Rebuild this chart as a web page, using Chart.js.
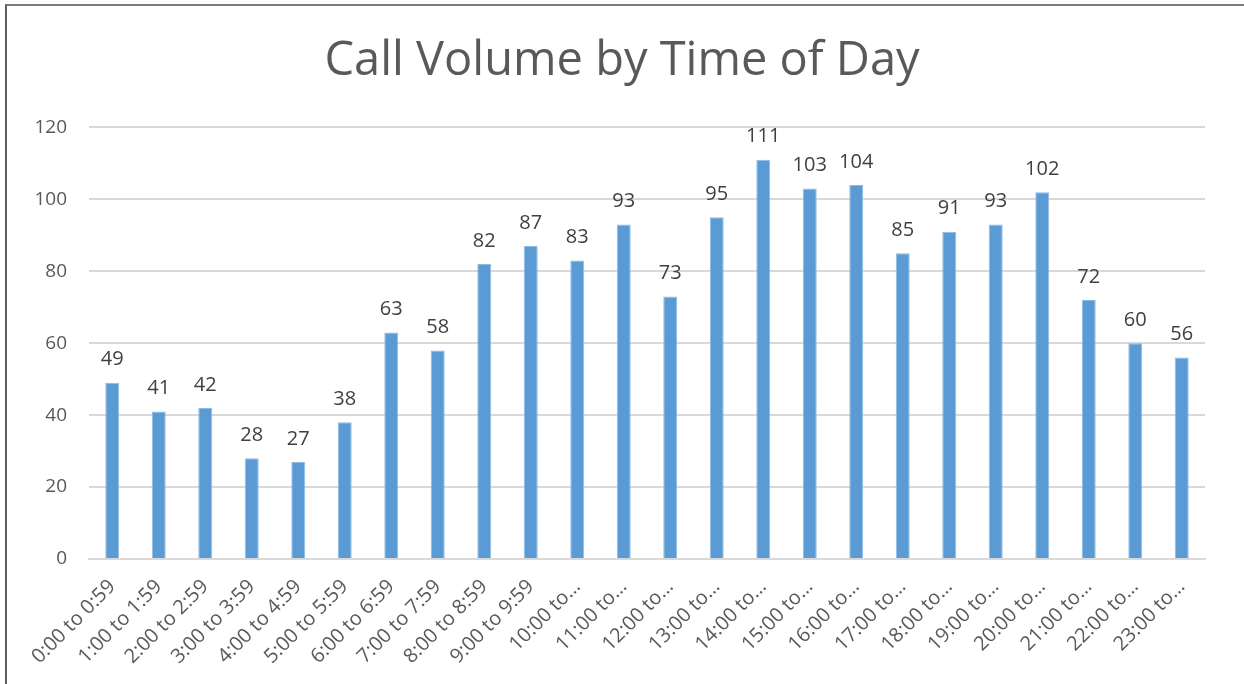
<!DOCTYPE html>
<html>
<head>
<meta charset="utf-8">
<script src="https://cdn.jsdelivr.net/npm/chart.js@4"></script>
<style>
html,body{margin:0;padding:0;background:#fff;}
#wrap{position:relative;width:1244px;height:684px;}
#frame{position:absolute;left:5px;top:4px;right:0;bottom:0;border-left:2px solid #5e5e5e;border-top:2px solid #7a7a7a;pointer-events:none;}
canvas{position:absolute;left:0;top:0;}
</style>
</head>
<body>
<div id="wrap"><canvas id="c" width="1244" height="684"></canvas><div id="frame"></div></div>
<script>
const categories = ["0:00 to 0:59","1:00 to 1:59","2:00 to 2:59","3:00 to 3:59","4:00 to 4:59","5:00 to 5:59","6:00 to 6:59","7:00 to 7:59","8:00 to 8:59","9:00 to 9:59","10:00 to 10:59","11:00 to 11:59","12:00 to 12:59","13:00 to 13:59","14:00 to 14:59","15:00 to 15:59","16:00 to 16:59","17:00 to 17:59","18:00 to 18:59","19:00 to 19:59","20:00 to 20:59","21:00 to 21:59","22:00 to 22:59","23:00 to 23:59"];
const tickLabels = ["0:00 to 0:59","1:00 to 1:59","2:00 to 2:59","3:00 to 3:59","4:00 to 4:59","5:00 to 5:59","6:00 to 6:59","7:00 to 7:59","8:00 to 8:59","9:00 to 9:59","10:00 to\u2026","11:00 to\u2026","12:00 to\u2026","13:00 to\u2026","14:00 to\u2026","15:00 to\u2026","16:00 to\u2026","17:00 to\u2026","18:00 to\u2026","19:00 to\u2026","20:00 to\u2026","21:00 to\u2026","22:00 to\u2026","23:00 to\u2026"];
const callVolume = [49,41,42,28,27,38,63,58,82,87,83,93,73,95,111,103,104,85,91,93,102,72,60,56];
const yTicks = [0,20,40,60,80,100,120];

const FONT = "'Open Sans', 'Liberation Sans', sans-serif";

const valueLabels = {
  id: 'valueLabels',
  afterDatasetsDraw(chart) {
    const ctx = chart.ctx;
    const meta = chart.getDatasetMeta(0);
    ctx.save();
    ctx.font = "20px " + FONT;
    ctx.fillStyle = "#404040";
    ctx.textAlign = "center";
    ctx.textBaseline = "bottom";
    meta.data.forEach((bar, i) => {
      ctx.fillText(String(chart.data.datasets[0].data[i]), bar.x, bar.y - 13);
    });
    ctx.restore();
  }
};

new Chart(document.getElementById('c'), {
  type: 'bar',
  data: {
    labels: categories,
    datasets: [{
      data: callVolume,
      backgroundColor: '#5B9BD5',
      borderColor: '#8fbbe3',
      borderWidth: 1,
      barPercentage: 0.6,
      categoryPercentage: 0.5
    }]
  },
  options: {
    responsive: false,
    animation: false,
    devicePixelRatio: 1,
    layout: { padding: { left: 0, right: 0, top: 0, bottom: 0 } },
    plugins: {
      legend: { display: false },
      tooltip: { enabled: false },
      title: {
        display: true,
        text: 'Call Volume by Time of Day',
        color: '#595959',
        font: { family: FONT, size: 47, weight: 'normal' },
        padding: { top: 33, bottom: 38 }
      }
    },
    scales: {
      x: {
        grid: { display: false, drawTicks: false },
        border: { display: true, color: '#d9d9d9', width: 2 },
        ticks: {
          color: '#595959',
          font: { family: FONT, size: 20 },
          maxRotation: 45, minRotation: 45,
          autoSkip: false,
          padding: 16,
          callback: (v, i) => tickLabels[i]
        },
        afterFit: s => { s.height = 125; }
      },
      y: {
        min: 0, max: 120,
        afterBuildTicks: s => { s.ticks = yTicks.map(v => ({ value: v })); },
        grid: { color: '#d9d9d9', lineWidth: 2, drawTicks: false },
        border: { display: false },
        ticks: {
          color: '#595959',
          font: { family: FONT, size: 19 },
          padding: 22
        },
        afterFit: s => { s.width = 89; }
      },
      yRightSpacer: {
        position: 'right',
        display: true,
        min: 0, max: 120,
        grid: { display: false, drawTicks: false },
        border: { display: false },
        ticks: { display: false },
        afterFit: s => { s.width = 39; }
      }
    }
  },
  plugins: [valueLabels]
});
</script>
</body>
</html>
